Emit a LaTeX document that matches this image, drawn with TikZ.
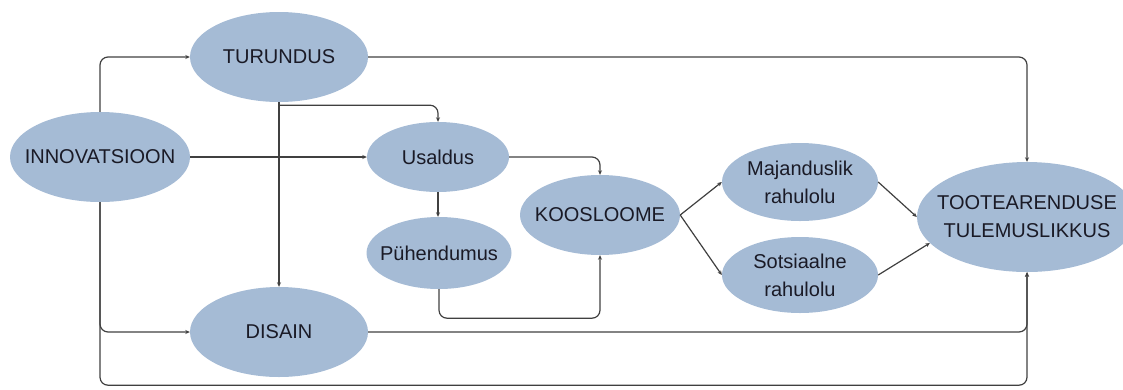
\documentclass[tikz,border=0pt]{standalone}
\usepackage{fontspec}
\setmainfont{Liberation Sans}
\usetikzlibrary{shapes.geometric,arrows.meta}
\definecolor{bubble}{HTML}{A5BBD5}
\definecolor{wire}{HTML}{404040}
\definecolor{ink}{HTML}{1A1A26}
\begin{document}
\begin{tikzpicture}[x=1pt,y=-1pt,
  bub/.style 2 args={ellipse, fill=bubble, draw=none, inner sep=0pt,
    minimum width=#1, minimum height=#2},
  txt/.style={font=\fontsize{20}{28}\selectfont, text=ink, align=center, inner sep=0pt},
  wireline/.style={draw=wire, line width=1.2pt},
  link/.style={wireline, rounded corners=8pt, -{Stealth[length=4.5pt,width=4pt]}},
]
\useasboundingbox (0,0) rectangle (1123,389);

% concepts: fixed-size ellipses, the wording set on their centres
\node[bub={180pt}{90pt}, label={[txt]center:INNOVATSIOON}] (inn) at (100,157) {};
\node[bub={178pt}{90pt}, label={[txt]center:TURUNDUS}] (tur) at (279,57) {};
\node[bub={178pt}{90pt}, label={[txt]center:DISAIN}] (dis) at (279,332) {};
\node[bub={142pt}{70pt}, label={[txt]center:Usaldus}] (usa) at (438,157) {};
\node[bub={145pt}{72pt}, label={[txt]center:Pühendumus}] (pue) at (439,253) {};
\node[bub={160pt}{80pt}, label={[txt]center:KOOSLOOME}] (koo) at (600,215) {};
\node[bub={156pt}{78pt}, label={[txt]center:{Majanduslik\\rahulolu}}] (maj) at (800,182) {};
\node[bub={156pt}{76pt}, label={[txt]center:{Sotsiaalne\\rahulolu}}] (sot) at (800,275) {};
\node[bub={220pt}{110pt}, label={[txt]center:{TOOTEARENDUSE\\TULEMUSLIKKUS}}] (toot) at (1027,217) {};

% connectors
\draw[link] (inn.north) |- (tur.west);
\draw[link] (inn.east) -- (usa.west);
\coordinate (split) at ([yshift=-3pt]tur.south);
\draw[wireline] (tur.south) -- (split);
\draw[link] (split) -| (usa.north);
\draw[link] (split) -- (dis.north);
\draw[link] (usa.south) -- (usa.south |- pue.north);
\draw[link] (usa.east) -| (koo.north);
\draw[link] (pue.south) -- ++(0,29) -| (koo.south);
\draw[link] (koo.east) -- (maj.west);
\draw[link] (koo.east) -- (sot.west);
\draw[link] (maj.east) -- (toot.west);
\draw[link] (sot.east) -- (toot.195);
\draw[link] (tur.east) -| (toot.north);
\draw[link] (dis.east) -| (toot.south);
\draw[link] (inn.south) |- (dis.west);
\draw[link] (inn.south) -- ++(0,183) -| (toot.south);
\end{tikzpicture}
\end{document}
